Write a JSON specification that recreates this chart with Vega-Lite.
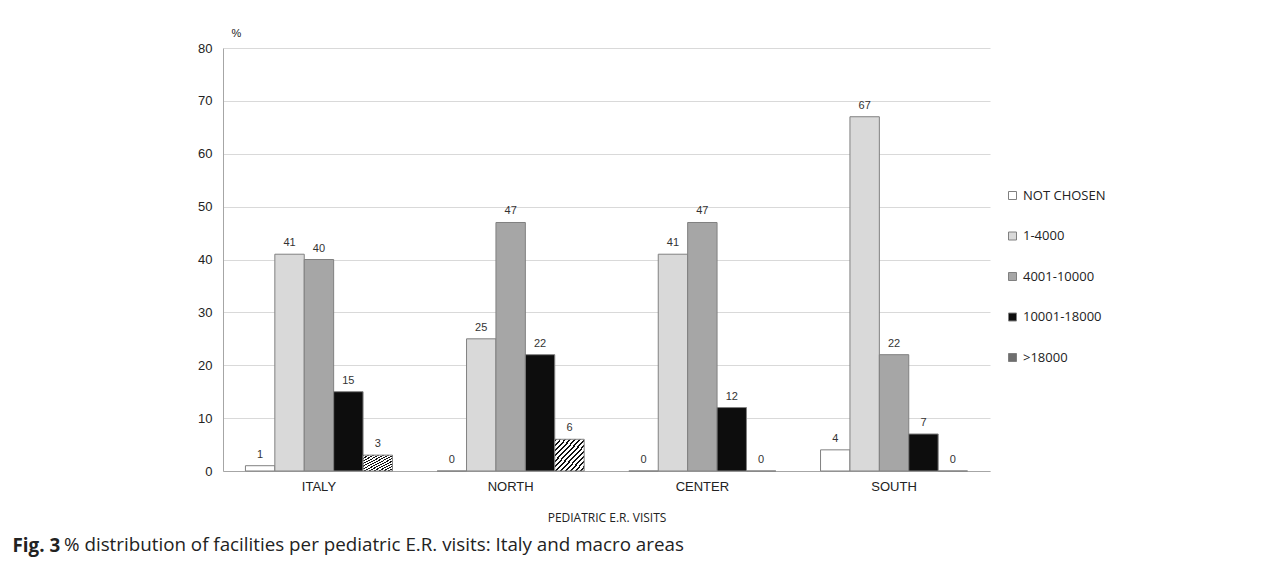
{
  "$schema": "https://vega.github.io/schema/vega-lite/v6.json",
  "width": 767,
  "height": 423,
  "autosize": {"type": "none"},
  "padding": {"left": 223, "top": 48, "right": 291, "bottom": 93},
  "background": "white",
  "title": {
    "text": "% distribution of facilities per pediatric E.R. visits: Italy and macro areas",
    "orient": "bottom",
    "anchor": "start",
    "frame": "group",
    "dx": -159,
    "offset": -4,
    "baseline": "alphabetic",
    "font": "Open Sans",
    "fontSize": 18.8,
    "fontWeight": "normal",
    "color": "#222222"
  },
  "data": {
    "values": [
      {"region": "ITALY", "visits": "NOT CHOSEN", "pct": 1},
      {"region": "ITALY", "visits": "1-4000", "pct": 41},
      {"region": "ITALY", "visits": "4001-10000", "pct": 40},
      {"region": "ITALY", "visits": "10001-18000", "pct": 15},
      {"region": "ITALY", "visits": ">18000", "pct": 3},
      {"region": "NORTH", "visits": "NOT CHOSEN", "pct": 0},
      {"region": "NORTH", "visits": "1-4000", "pct": 25},
      {"region": "NORTH", "visits": "4001-10000", "pct": 47},
      {"region": "NORTH", "visits": "10001-18000", "pct": 22},
      {"region": "NORTH", "visits": ">18000", "pct": 6},
      {"region": "CENTER", "visits": "NOT CHOSEN", "pct": 0},
      {"region": "CENTER", "visits": "1-4000", "pct": 41},
      {"region": "CENTER", "visits": "4001-10000", "pct": 47},
      {"region": "CENTER", "visits": "10001-18000", "pct": 12},
      {"region": "CENTER", "visits": ">18000", "pct": 0},
      {"region": "SOUTH", "visits": "NOT CHOSEN", "pct": 4},
      {"region": "SOUTH", "visits": "1-4000", "pct": 67},
      {"region": "SOUTH", "visits": "4001-10000", "pct": 22},
      {"region": "SOUTH", "visits": "10001-18000", "pct": 7},
      {"region": "SOUTH", "visits": ">18000", "pct": 0}
    ]
  },
  "encoding": {
    "x": {
      "field": "region",
      "type": "nominal",
      "sort": ["ITALY", "NORTH", "CENTER", "SOUTH"],
      "scale": {"paddingInner": 0.233, "paddingOuter": 0.117},
      "axis": {
        "orient": "bottom",
        "title": "PEDIATRIC E.R. VISITS",
        "titleFont": "Open Sans",
        "titleFontSize": 12,
        "titleFontWeight": "normal",
        "titleColor": "#222222",
        "titleY": 46,
        "titleBaseline": "middle",
        "labelAngle": 0,
        "labelPadding": 9,
        "labelFont": "Liberation Sans",
        "labelFontSize": 13,
        "labelColor": "#222222",
        "ticks": false,
        "domainColor": "#a6a6a6",
        "grid": false
      }
    },
    "xOffset": {
      "field": "visits",
      "type": "nominal",
      "sort": ["NOT CHOSEN", "1-4000", "4001-10000", "10001-18000", ">18000"]
    },
    "y": {
      "field": "pct",
      "type": "quantitative",
      "scale": {"domain": [0, 80], "nice": false},
      "axis": {
        "values": [0, 10, 20, 30, 40, 50, 60, 70, 80],
        "title": "%",
        "titleAngle": 0,
        "titleX": 8,
        "titleY": -15,
        "titleAlign": "left",
        "titleBaseline": "middle",
        "titleFont": "Liberation Sans",
        "titleFontSize": 11,
        "titleFontWeight": "normal",
        "titleColor": "#222222",
        "labelFont": "Liberation Sans",
        "labelFontSize": 13,
        "labelColor": "#222222",
        "labelPadding": 11,
        "ticks": false,
        "domainColor": "#a6a6a6",
        "gridColor": "#d9d9d9"
      }
    }
  },
  "layer": [
    {
      "mark": {"type": "bar", "stroke": "#808080", "strokeWidth": 1},
      "encoding": {
        "fill": {
          "condition": {
            "test": "datum.visits === '>18000'",
            "value": {
              "gradient": "linear", "x1": 0, "y1": 0, "x2": 1, "y2": 1,
              "stops": [
                {"offset": 0, "color": "#111111"}, {"offset": 0.0333, "color": "#111111"}, {"offset": 0.0333, "color": "#ffffff"}, {"offset": 0.0833, "color": "#ffffff"},
                {"offset": 0.0833, "color": "#111111"}, {"offset": 0.1167, "color": "#111111"}, {"offset": 0.1167, "color": "#ffffff"}, {"offset": 0.1667, "color": "#ffffff"},
                {"offset": 0.1667, "color": "#111111"}, {"offset": 0.2, "color": "#111111"}, {"offset": 0.2, "color": "#ffffff"}, {"offset": 0.25, "color": "#ffffff"},
                {"offset": 0.25, "color": "#111111"}, {"offset": 0.2833, "color": "#111111"}, {"offset": 0.2833, "color": "#ffffff"}, {"offset": 0.3333, "color": "#ffffff"},
                {"offset": 0.3333, "color": "#111111"}, {"offset": 0.3667, "color": "#111111"}, {"offset": 0.3667, "color": "#ffffff"}, {"offset": 0.4167, "color": "#ffffff"},
                {"offset": 0.4167, "color": "#111111"}, {"offset": 0.45, "color": "#111111"}, {"offset": 0.45, "color": "#ffffff"}, {"offset": 0.5, "color": "#ffffff"},
                {"offset": 0.5, "color": "#111111"}, {"offset": 0.5333, "color": "#111111"}, {"offset": 0.5333, "color": "#ffffff"}, {"offset": 0.5833, "color": "#ffffff"},
                {"offset": 0.5833, "color": "#111111"}, {"offset": 0.6167, "color": "#111111"}, {"offset": 0.6167, "color": "#ffffff"}, {"offset": 0.6667, "color": "#ffffff"},
                {"offset": 0.6667, "color": "#111111"}, {"offset": 0.7, "color": "#111111"}, {"offset": 0.7, "color": "#ffffff"}, {"offset": 0.75, "color": "#ffffff"},
                {"offset": 0.75, "color": "#111111"}, {"offset": 0.7833, "color": "#111111"}, {"offset": 0.7833, "color": "#ffffff"}, {"offset": 0.8333, "color": "#ffffff"},
                {"offset": 0.8333, "color": "#111111"}, {"offset": 0.8667, "color": "#111111"}, {"offset": 0.8667, "color": "#ffffff"}, {"offset": 0.9167, "color": "#ffffff"},
                {"offset": 0.9167, "color": "#111111"}, {"offset": 0.95, "color": "#111111"}, {"offset": 0.95, "color": "#ffffff"}, {"offset": 1, "color": "#ffffff"}
              ]
            }
          },
          "field": "visits",
          "type": "nominal",
          "sort": ["NOT CHOSEN", "1-4000", "4001-10000", "10001-18000", ">18000"],
          "scale": {
            "domain": ["NOT CHOSEN", "1-4000", "4001-10000", "10001-18000", ">18000"],
            "range": ["#ffffff", "#d9d9d9", "#a6a6a6", "#0d0d0d", "#6e6e6e"]
          },
          "legend": {
            "title": null,
            "orient": "none",
            "legendX": 783,
            "legendY": 141,
            "padding": 0,
            "symbolType": "square",
            "symbolSize": 64,
            "symbolStrokeColor": "#808080",
            "symbolStrokeWidth": 1,
            "labelFont": "Open Sans",
            "labelFontSize": 13,
            "labelColor": "#222222",
            "labelOffset": 4,
            "rowPadding": 26.5
          }
        }
      }
    },
    {
      "mark": {"type": "text", "baseline": "bottom", "dy": -6, "font": "Liberation Sans", "fontSize": 11, "color": "#333333"},
      "encoding": {
        "x": {
          "field": "region",
          "type": "nominal",
          "sort": ["ITALY", "NORTH", "CENTER", "SOUTH"],
          "axis": {
            "orient": "top",
            "title": "Fig. 3",
            "labels": false,
            "ticks": false,
            "domain": false,
            "grid": false,
            "titleX": -211,
            "titleY": 503,
            "titleAlign": "left",
            "titleAnchor": null,
            "titleBaseline": "alphabetic",
            "titleFont": "Open Sans",
            "titleFontSize": 18.8,
            "titleFontWeight": "bold",
            "titleColor": "#222222"
          }
        },
        "text": {"field": "pct", "type": "quantitative"}
      }
    }
  ],
  "resolve": {"axis": {"x": "independent"}},
  "config": {
    "view": {"stroke": null}
  }
}
